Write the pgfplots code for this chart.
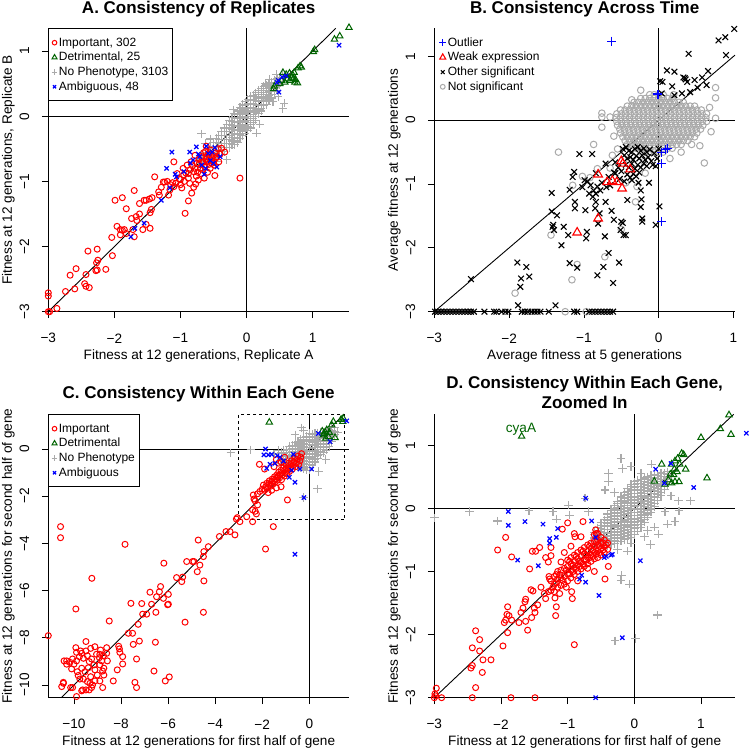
\documentclass[border=0pt]{standalone}
\usepackage{fontspec}
\setmainfont{Liberation Sans}
\usepackage{pgfplots}
\pgfplotsset{compat=1.18}
\definecolor{rred}{RGB}{255,0,0}
\definecolor{rgreen}{RGB}{0,100,0}
\definecolor{rblue}{RGB}{0,0,255}
\definecolor{rgray}{RGB}{170,170,170}
\newcommand{\rlabfont}{\fontsize{13.6}{16}\selectfont}
\pgfplotsset{
  rpanel/.style={
    scale only axis, width=300.7pt, height=283.4pt,
    axis x line*=bottom, axis y line*=left,
    axis line style={-, line width=0.75pt},
    enlargelimits=false, clip=false,
    tick align=outside, major tick length=6.5pt,
    tick style={black, line width=0.75pt},
    tick label style={font=\rlabfont, inner sep=0pt},
    xticklabel style={anchor=center, yshift=-20.1pt},
    yticklabel style={anchor=center, xshift=-17.3pt, rotate=90},
    every axis x label/.style={at={(axis description cs:0.5,0)}, yshift=-48.3pt, anchor=base, inner sep=0pt, font=\rlabfont},
    every axis y label/.style={at={(axis description cs:0,0.5)}, xshift=-36.5pt, rotate=90, anchor=base, inner sep=0pt, font=\rlabfont},
    every axis title/.style={at={(axis description cs:0.5,1)}, yshift=14.5pt, anchor=base, inner sep=0pt, font=\bfseries\fontsize{17}{20}\selectfont, align=center},
    legend image code/.code={\draw[mark repeat=2,mark phase=2,#1] plot coordinates {(0pt,0pt)(6pt,0pt)(12pt,0pt)};},
    legend cell align=left,
    legend style={at={(axis description cs:0,1)}, anchor=north west, draw=black, line width=0.9pt,
      inner xsep=3pt, inner ysep=6.6pt, row sep=0pt,
      nodes={inner sep=1.5pt, text height=9.2pt, text depth=2.5pt},
      /tikz/every even column/.append style={column sep=3.2pt}},
  },
  pimp/.style={only marks, mark=o, mark size=3pt, color=rred, mark options={line width=1pt, solid}},
  pdet/.style={only marks, mark=triangle, mark size=3.7pt, color=rgreen, mark options={line width=1pt, solid}},
  pnop/.style={only marks, mark=+, mark size=4.2pt, color=rgray, mark options={line width=1.1pt, solid}},
  pamb/.style={only marks, mark=x, mark size=3pt, color=rblue, mark options={line width=1.2pt, solid}},
  bout/.style={only marks, mark=+, mark size=4.5pt, color=rblue, mark options={line width=1.1pt, solid}},
  bweak/.style={only marks, mark=triangle, mark size=5pt, color=rred, mark options={line width=1.1pt, solid}},
  bsig/.style={only marks, mark=x, mark size=4pt, color=black, mark options={line width=1.1pt, solid}},
  bnot/.style={only marks, mark=o, mark size=3.3pt, color=rgray, mark options={line width=1pt, solid}},
  refline/.style={black, line width=0.9pt, forget plot, no marks},
}
\begin{document}
\begin{tikzpicture}
\useasboundingbox (0,0) rectangle (750pt,749pt);
% ---------------- Panel A ----------------
\begin{axis}[rpanel, at={(48.3pt,437.3pt)}, anchor=south west,
  xmin=-3, xmax=1.55, ymin=-3, ymax=1.35,
  xtick={-3,-2,-1,0,1}, xticklabels={−3,−2,−1,0,1},
  ytick={-3,-2,-1,0,1}, yticklabels={−3,−2,−1,0,1},
  title={A. Consistency of Replicates},
  xlabel={Fitness at 12 generations, Replicate A},
  ylabel={Fitness at 12 generations, Replicate B},
  legend style={font=\fontsize{12}{14}\selectfont}]
\addlegendimage{pimp, mark size=2.3pt}\addlegendentry{\fontsize{12}{14}\selectfont Important, 302}
\addlegendimage{pdet, mark size=2.9pt}\addlegendentry{\fontsize{12}{14}\selectfont Detrimental, 25}
\addlegendimage{pnop, mark size=2.8pt}\addlegendentry{\fontsize{12}{14}\selectfont No Phenotype, 3103}
\addlegendimage{pamb, mark size=2.2pt}\addlegendentry{\fontsize{12}{14}\selectfont Ambiguous, 48}
\addplot[pnop, forget plot] coordinates {
(-0.70,-0.66)(-0.70,-0.72)
(-0.66,-0.60)(-0.66,-0.66)(-0.66,-0.72)
(-0.62,-0.56)(-0.62,-0.62)(-0.62,-0.68)
(-0.58,-0.50)(-0.58,-0.56)(-0.58,-0.62)(-0.58,-0.68)
(-0.54,-0.46)(-0.54,-0.52)(-0.54,-0.58)(-0.54,-0.64)
(-0.50,-0.40)(-0.50,-0.46)(-0.50,-0.52)(-0.50,-0.58)(-0.50,-0.64)
(-0.46,-0.34)(-0.46,-0.40)(-0.46,-0.46)(-0.46,-0.52)(-0.46,-0.58)(-0.46,-0.62)
(-0.42,-0.30)(-0.42,-0.36)(-0.42,-0.42)(-0.42,-0.48)(-0.42,-0.54)(-0.42,-0.60)
(-0.38,-0.24)(-0.38,-0.30)(-0.38,-0.36)(-0.38,-0.42)(-0.38,-0.48)(-0.38,-0.54)
(-0.34,-0.18)(-0.34,-0.24)(-0.34,-0.30)(-0.34,-0.36)(-0.34,-0.42)(-0.34,-0.48)(-0.34,-0.54)
(-0.30,-0.12)(-0.30,-0.18)(-0.30,-0.24)(-0.30,-0.30)(-0.30,-0.36)(-0.30,-0.42)(-0.30,-0.48)
(-0.26,-0.06)(-0.26,-0.12)(-0.26,-0.18)(-0.26,-0.24)(-0.26,-0.30)(-0.26,-0.36)(-0.26,-0.42)(-0.26,-0.48)
(-0.22,-0.02)(-0.22,-0.08)(-0.22,-0.14)(-0.22,-0.20)(-0.22,-0.26)(-0.22,-0.32)(-0.22,-0.38)(-0.22,-0.44)
(-0.18,0.04)(-0.18,-0.02)(-0.18,-0.08)(-0.18,-0.14)(-0.18,-0.20)(-0.18,-0.26)(-0.18,-0.32)(-0.18,-0.38)(-0.18,-0.44)
(-0.14,0.08)(-0.14,0.02)(-0.14,-0.04)(-0.14,-0.10)(-0.14,-0.16)(-0.14,-0.22)(-0.14,-0.28)(-0.14,-0.34)(-0.14,-0.40)
(-0.10,0.14)(-0.10,0.08)(-0.10,0.02)(-0.10,-0.04)(-0.10,-0.10)(-0.10,-0.16)(-0.10,-0.22)(-0.10,-0.28)(-0.10,-0.34)
(-0.06,0.18)(-0.06,0.12)(-0.06,0.06)(-0.06,0.00)(-0.06,-0.06)(-0.06,-0.12)(-0.06,-0.18)(-0.06,-0.24)(-0.06,-0.30)
(-0.02,0.22)(-0.02,0.16)(-0.02,0.10)(-0.02,0.04)(-0.02,-0.02)(-0.02,-0.08)(-0.02,-0.14)(-0.02,-0.20)(-0.02,-0.26)
(0.02,0.26)(0.02,0.20)(0.02,0.14)(0.02,0.08)(0.02,0.02)(0.02,-0.04)(0.02,-0.10)(0.02,-0.16)(0.02,-0.22)
(0.06,0.30)(0.06,0.24)(0.06,0.18)(0.06,0.12)(0.06,0.06)(0.06,0.00)(0.06,-0.06)(0.06,-0.12)(0.06,-0.18)
(0.10,0.32)(0.10,0.26)(0.10,0.20)(0.10,0.14)(0.10,0.08)(0.10,0.02)(0.10,-0.04)(0.10,-0.10)
(0.14,0.36)(0.14,0.30)(0.14,0.24)(0.14,0.18)(0.14,0.12)(0.14,0.06)(0.14,0.00)(0.14,-0.06)
(0.18,0.40)(0.18,0.34)(0.18,0.28)(0.18,0.22)(0.18,0.16)(0.18,0.10)(0.18,0.04)
(0.22,0.42)(0.22,0.36)(0.22,0.30)(0.22,0.24)(0.22,0.18)(0.22,0.12)(0.22,0.08)
(0.26,0.46)(0.26,0.40)(0.26,0.34)(0.26,0.28)(0.26,0.22)(0.26,0.16)
(0.30,0.48)(0.30,0.42)(0.30,0.36)(0.30,0.30)(0.30,0.24)(0.30,0.18)
(0.34,0.50)(0.34,0.44)(0.34,0.38)(0.34,0.32)(0.34,0.26)
(0.38,0.52)(0.38,0.46)(0.38,0.40)(0.38,0.34)(0.38,0.28)
(0.42,0.56)(0.42,0.50)(0.42,0.44)(0.42,0.38)
(0.46,0.58)(0.46,0.52)(0.46,0.46)(0.46,0.40)
(0.50,0.60)(0.50,0.54)(0.50,0.48)
(0.54,0.64)(0.54,0.58)
(0.15,-0.26)(0.55,0.12)(0.57,0.20)(0.28,0.50)(-0.30,-0.67)(-0.68,-0.27)(-0.45,-0.70)(0.45,0.64)(0.35,0.57)(-0.55,-0.35)
(0.40,0.22)(0.48,0.30)(-0.62,-0.42)(0.20,-0.12)(-0.20,0.10)};
\addplot[pimp, forget plot] coordinates {
(-3,-3)(-2.98,-3.0)(-3,-2.71)(-3,-2.76)(-2.87,-2.95)(-2.74,-2.69)(-2.67,-2.44)(-2.60,-2.65)(-2.58,-2.34)(-2.43,-2.43)
(-2.45,-2.57)(-2.43,-2.61)(-2.38,-2.63)(-2.40,-2.07)(-2.26,-2.04)(-2.27,-2.25)(-2.25,-2.21)(-2.28,-2.37)(-2.26,-2.36)(-2.13,-2.35)
(-2.03,-2.14)(-2.04,-1.86)(-1.96,-1.69)(-1.91,-1.74)(-1.88,-1.75)(-1.85,-1.74)(-1.91,-1.82)(-1.82,-1.80)(-1.99,-1.29)(-1.88,-1.25)
(-1.82,-1.42)(-1.70,-1.14)(-1.74,-1.57)(-1.67,-1.54)(-1.72,-1.74)(-1.70,-1.85)(-1.66,-1.60)(-1.62,-1.50)(-1.62,-1.34)(-1.55,-1.29)
(-1.52,-1.29)(-1.47,-1.27)(-1.43,-1.25)(-1.57,-1.74)(-1.52,-1.66)(-1.46,-1.72)(-1.46,-1.48)(-1.44,-1.43)(-1.39,-0.93)(-1.33,-1.16)
(-1.32,-1.21)(-1.29,-1.09)(-1.26,-1.01)(-1.24,-1.01)(-1.18,-1.21)(-1.16,-1.13)(-1.10,-0.70)(-1.10,-1.08)(-1.07,-1.03)(-1.05,-0.88)
(-1.02,-0.96)(-1.00,-1.05)(-0.98,-1.10)(-0.96,-0.80)(-0.95,-0.90)(-0.93,-1.49)(-0.90,-0.75)(-0.88,-1.30)(-0.88,-0.95)(-0.86,-1.03)
(-0.84,-0.70)(-0.83,-1.18)(-0.80,-1.09)(-0.80,-0.85)(-0.78,-0.60)(-0.77,-1.04)(-0.76,-0.92)(-0.75,-0.72)(-0.73,-0.98)(-0.72,-0.66)
(-0.70,-0.80)(-0.69,-0.88)(-0.68,-0.62)(-0.66,-0.71)(-0.65,-0.56)(-0.64,-0.95)(-0.63,-0.78)(-0.62,-0.66)(-0.61,-0.46)(-0.60,-0.70)
(-0.59,-0.86)(-0.58,-0.58)(-0.57,-0.74)(-0.56,-0.64)(-0.55,-0.80)(-0.54,-0.52)(-0.53,-0.68)(-0.52,-0.72)(-0.50,-0.60)(-0.49,-0.75)
(-0.48,-0.91)(-0.47,-0.65)(-0.46,-0.56)(-0.45,-0.62)(-0.43,-0.50)(-0.42,-0.70)(-0.40,-0.58)(-0.38,-0.49)(-0.33,-0.55)(-0.10,-0.95)
(-1.00,-0.97)(-0.92,-0.87)(-0.85,-0.82)(-0.82,-0.76)(-0.78,-0.80)(-0.72,-0.74)(-0.68,-0.70)(-0.66,-0.82)(-0.60,-0.62)(-0.58,-0.68)
(-0.52,-0.64)(-0.50,-0.70)(-1.12,-1.02)(-1.15,-1.05)(-1.20,-1.00)(-0.94,-1.00)(-0.88,-0.88)(-0.74,-0.86)(-0.62,-0.54)(-0.56,-0.56)};
\addplot[pdet, forget plot] coordinates {
(1.55,1.36)(1.41,1.23)(1.33,1.18)(1.03,1.02)(1.01,0.99)(0.81,0.77)(0.83,0.75)(0.78,0.74)(0.55,0.67)(0.60,0.64)
(0.65,0.66)(0.70,0.63)(0.71,0.58)(0.73,0.52)(0.77,0.51)(0.66,0.55)(0.58,0.52)(0.53,0.55)(0.42,0.46)(0.41,0.42)
(0.62,0.57)(0.74,0.56)(0.50,0.50)(0.68,0.60)(0.72,0.67)};
\addplot[pamb, forget plot] coordinates {
(-1.13,-0.55)(-1.21,-0.80)(-1.08,-0.89)(-1.06,-0.93)(-1.16,-1.10)(-1.29,-1.29)(-1.55,-1.64)(-1.69,-1.72)(-1.75,-1.85)(-0.86,-0.55)
(-0.76,-0.47)(-0.61,-0.46)(-0.58,-0.57)(-0.81,-0.67)(-0.71,-0.62)(-0.45,-0.78)(-0.40,-0.62)(-0.64,-0.89)(-0.50,-0.72)(-0.68,-0.75)
(-0.73,-0.58)(-0.55,-0.68)(-0.85,-0.72)(-0.62,-0.80)(-0.95,-0.85)(0.48,0.55)(0.54,0.60)(0.46,0.52)(0.60,0.62)(1.40,1.09)
(0.49,0.37)(-0.48,-0.48)(-0.52,-0.55)};
\addplot[refline] coordinates {(-3,0)(1.55,0)};
\addplot[refline] coordinates {(0,-3)(0,1.35)};
\addplot[refline] coordinates {(-3,-3)(1.35,1.35)};
\end{axis}
% ---------------- Panel B ----------------
\begin{axis}[rpanel, at={(434.3pt,437.3pt)}, anchor=south west,
  xmin=-3, xmax=1.02, ymin=-3, ymax=1.44,
  xtick={-3,-2,-1,0,1}, xticklabels={−3,−2,−1,0,1},
  ytick={-3,-2,-1,0,1}, yticklabels={−3,−2,−1,0,1},
  title={B. Consistency Across Time},
  xlabel={Average fitness at 5 generations},
  ylabel={Average fitness at 12 generations},
  legend style={draw=none, inner xsep=4.5pt, font=\fontsize{12}{14}\selectfont, /tikz/every even column/.append style={column sep=5pt}}]
\addlegendimage{bout, mark size=3.5pt}\addlegendentry{\fontsize{12}{14}\selectfont Outlier}
\addlegendimage{bweak, mark size=3.5pt}\addlegendentry{\fontsize{12}{14}\selectfont Weak expression}
\addlegendimage{bsig, mark size=2.6pt}\addlegendentry{\fontsize{12}{14}\selectfont Other significant}
\addlegendimage{bnot, mark size=2.4pt}\addlegendentry{\fontsize{12}{14}\selectfont Not significant}
\addplot[bnot, forget plot] coordinates {
(-0.12,0.40)(-0.06,0.40)(0.00,0.40)(0.06,0.40)
(-0.24,0.34)(-0.18,0.34)(-0.12,0.34)(-0.06,0.34)(0.00,0.34)(0.06,0.34)(0.12,0.34)(0.18,0.34)
(-0.33,0.28)(-0.27,0.28)(-0.21,0.28)(-0.15,0.28)(-0.09,0.28)(-0.03,0.28)(0.03,0.28)(0.09,0.28)(0.15,0.28)(0.21,0.28)(0.27,0.28)(0.33,0.28)
(-0.42,0.22)(-0.36,0.22)(-0.30,0.22)(-0.24,0.22)(-0.18,0.22)(-0.12,0.22)(-0.06,0.22)(0.00,0.22)(0.06,0.22)(0.12,0.22)(0.18,0.22)(0.24,0.22)(0.30,0.22)(0.36,0.22)(0.42,0.22)(0.48,0.22)
(-0.51,0.16)(-0.45,0.16)(-0.39,0.16)(-0.33,0.16)(-0.27,0.16)(-0.21,0.16)(-0.15,0.16)(-0.09,0.16)(-0.03,0.16)(0.03,0.16)(0.09,0.16)(0.15,0.16)(0.21,0.16)(0.27,0.16)(0.33,0.16)(0.39,0.16)(0.45,0.16)(0.51,0.16)(0.57,0.16)
(-0.56,0.10)(-0.50,0.10)(-0.44,0.10)(-0.38,0.10)(-0.32,0.10)(-0.26,0.10)(-0.20,0.10)(-0.14,0.10)(-0.08,0.10)(-0.02,0.10)(0.04,0.10)(0.10,0.10)(0.16,0.10)(0.22,0.10)(0.28,0.10)(0.34,0.10)(0.40,0.10)(0.46,0.10)(0.52,0.10)(0.58,0.10)(0.64,0.10)
(-0.57,0.04)(-0.51,0.04)(-0.45,0.04)(-0.39,0.04)(-0.33,0.04)(-0.27,0.04)(-0.21,0.04)(-0.15,0.04)(-0.09,0.04)(-0.03,0.04)(0.03,0.04)(0.09,0.04)(0.15,0.04)(0.21,0.04)(0.27,0.04)(0.33,0.04)(0.39,0.04)(0.45,0.04)(0.51,0.04)(0.57,0.04)(0.63,0.04)
(-0.56,-0.02)(-0.50,-0.02)(-0.44,-0.02)(-0.38,-0.02)(-0.32,-0.02)(-0.26,-0.02)(-0.20,-0.02)(-0.14,-0.02)(-0.08,-0.02)(-0.02,-0.02)(0.04,-0.02)(0.10,-0.02)(0.16,-0.02)(0.22,-0.02)(0.28,-0.02)(0.34,-0.02)(0.40,-0.02)(0.46,-0.02)(0.52,-0.02)(0.58,-0.02)(0.64,-0.02)
(-0.55,-0.08)(-0.49,-0.08)(-0.43,-0.08)(-0.37,-0.08)(-0.31,-0.08)(-0.25,-0.08)(-0.19,-0.08)(-0.13,-0.08)(-0.07,-0.08)(-0.01,-0.08)(0.05,-0.08)(0.11,-0.08)(0.17,-0.08)(0.23,-0.08)(0.29,-0.08)(0.35,-0.08)(0.41,-0.08)(0.47,-0.08)(0.53,-0.08)(0.59,-0.08)
(-0.52,-0.14)(-0.46,-0.14)(-0.40,-0.14)(-0.34,-0.14)(-0.28,-0.14)(-0.22,-0.14)(-0.16,-0.14)(-0.10,-0.14)(-0.04,-0.14)(0.02,-0.14)(0.08,-0.14)(0.14,-0.14)(0.20,-0.14)(0.26,-0.14)(0.32,-0.14)(0.38,-0.14)(0.44,-0.14)(0.50,-0.14)(0.56,-0.14)
(-0.51,-0.20)(-0.45,-0.20)(-0.39,-0.20)(-0.33,-0.20)(-0.27,-0.20)(-0.21,-0.20)(-0.15,-0.20)(-0.09,-0.20)(-0.03,-0.20)(0.03,-0.20)(0.09,-0.20)(0.15,-0.20)(0.21,-0.20)(0.27,-0.20)(0.33,-0.20)(0.39,-0.20)(0.45,-0.20)(0.51,-0.20)
(-0.48,-0.26)(-0.42,-0.26)(-0.36,-0.26)(-0.30,-0.26)(-0.24,-0.26)(-0.18,-0.26)(-0.12,-0.26)(-0.06,-0.26)(0.00,-0.26)(0.06,-0.26)(0.12,-0.26)(0.18,-0.26)(0.24,-0.26)(0.30,-0.26)(0.36,-0.26)(0.42,-0.26)(0.48,-0.26)
(-0.45,-0.32)(-0.39,-0.32)(-0.33,-0.32)(-0.27,-0.32)(-0.21,-0.32)(-0.15,-0.32)(-0.09,-0.32)(-0.03,-0.32)(0.03,-0.32)(0.09,-0.32)(0.15,-0.32)(0.21,-0.32)(0.27,-0.32)(0.33,-0.32)(0.39,-0.32)
(-0.42,-0.38)(-0.36,-0.38)(-0.30,-0.38)(-0.24,-0.38)(-0.18,-0.38)(-0.12,-0.38)(-0.06,-0.38)(0.00,-0.38)(0.06,-0.38)(0.12,-0.38)(0.18,-0.38)(0.24,-0.38)(0.30,-0.38)
(-0.36,-0.44)(-0.30,-0.44)(-0.24,-0.44)(-0.18,-0.44)(-0.12,-0.44)(-0.06,-0.44)(0.00,-0.44)(0.06,-0.44)(0.12,-0.44)(0.18,-0.44)
(-0.30,-0.50)(-0.24,-0.50)(-0.18,-0.50)(-0.12,-0.50)(-0.06,-0.50)(0.00,-0.50)(0.06,-0.50)
(-0.24,0.47)(-0.36,0.32)(-0.76,0.11)(-0.76,0.05)(-0.76,-0.11)(-0.87,-0.38)(-1.34,-0.50)(0.76,0.51)(0.76,0.35)(0.76,0.03)
(0.61,-0.67)(0.44,-0.38)(-1.02,-0.88)(-0.82,-0.76)(-0.31,-1.28)(-0.50,-1.71)(-1.44,-1.80)(-1.09,-2.26)(-1.16,-2.50)(-1.92,-2.71)
(-0.72,-2.14)(-0.18,-0.83)(-1.25,-3.0)(-0.97,-3.0)(-0.29,-1.04)(-0.44,-0.98)(-0.65,0.05)(0.70,-0.18)(0.68,0.20)(-0.60,-0.25)
(0.55,-0.40)(-0.62,-0.55)(-0.55,-0.45)(-0.40,-0.62)(0.30,-0.50)(0.15,-0.60)(-0.20,-0.65)(0.20,0.40)(-1.15,-1.02)
(-0.92,-0.90)(-0.65,-0.75)};
\addplot[bsig, forget plot] coordinates {
(1.01,1.43)(0.89,1.30)(0.80,1.25)(0.90,1.02)(0.40,1.04)(0.11,0.78)(0.21,0.76)(0.02,0.61)(0.05,0.60)(0.18,0.53)
(0.04,0.42)(0.33,0.67)(0.36,0.64)(0.35,0.66)(0.48,0.63)(0.66,0.77)(0.58,0.67)(0.52,0.51)(0.64,0.55)(0.21,0.39)
(0.31,0.42)(0.42,0.44)(0.38,0.60)
(-0.48,-0.45)(-0.44,-0.42)(-0.40,-0.48)(-0.36,-0.50)(-0.32,-0.45)(-0.28,-0.42)(-0.24,-0.48)(-0.20,-0.44)(-0.16,-0.50)(-0.12,-0.46)
(-0.46,-0.55)(-0.42,-0.60)(-0.38,-0.58)(-0.34,-0.62)(-0.30,-0.56)(-0.26,-0.60)(-0.22,-0.55)(-0.18,-0.62)(-0.14,-0.58)(-0.10,-0.64)
(-0.44,-0.70)(-0.40,-0.74)(-0.36,-0.68)(-0.32,-0.76)(-0.28,-0.70)(-0.24,-0.74)(-0.20,-0.68)(-0.16,-0.72)(-0.08,-0.70)(-0.04,-0.72)
(-0.42,-0.85)(-0.38,-0.90)(-0.34,-0.84)(-0.30,-0.88)(-0.26,-0.82)(-0.50,-0.80)(-0.54,-0.74)(-0.58,-0.66)(-0.60,-0.82)(-0.52,-0.92)
(-0.46,-0.96)(-0.36,-0.94)(-0.02,-0.60)(0.00,-0.45)(-0.06,-0.52)
(-1.06,-0.53)(-0.89,-0.53)(-0.71,-0.68)(-1.13,-0.81)(-1.15,-0.89)(-1.43,-1.14)(-1.19,-1.09)(-1.12,-1.28)(-1.12,-1.38)(-0.99,-0.94)
(-0.91,-1.02)(-0.87,-1.10)(-0.84,-1.15)(-0.98,-1.41)(-0.84,-1.28)(-0.85,-1.38)(-0.79,-1.46)(-0.71,-1.28)(-0.63,-1.42)(-1.43,-1.43)
(-1.36,-1.49)(-1.42,-1.67)(-1.40,-1.72)(-1.41,-1.64)(-1.27,-1.67)(-1.21,-1.80)(-1.30,-1.96)(-0.96,-1.75)(-0.97,-1.85)(-0.81,-1.62)
(-0.72,-1.82)(-0.60,-1.56)(-0.50,-1.59)(-0.48,-1.61)(-0.51,-1.72)(-0.47,-1.80)(-0.44,-1.80)(-0.42,-1.25)(-0.27,-0.98)(-0.24,-1.10)
(-0.13,-0.98)(-0.23,-1.24)(-0.24,-1.36)(-0.22,-1.54)(-0.22,-1.59)(-0.04,-1.64)(0.01,-1.35)(-1.19,-2.24)(-1.09,-2.31)(-0.67,-2.08)
(-0.74,-2.30)(-0.53,-2.23)(-0.82,-2.43)(-0.61,-2.55)(-1.89,-2.23)(-1.77,-2.30)(-1.84,-2.48)(-1.73,-2.45)(-1.85,-2.61)(-2.51,-2.49)
(-1.88,-2.90)(-1.38,-2.90)
(-0.93,-1.15)(-0.88,-1.20)(-0.82,-1.04)(-0.76,-0.98)(-0.67,-0.89)(-0.65,-1.02)(-0.58,-0.83)(-0.84,-0.83)(-1.02,-1.05)(-0.95,-0.96)
(-0.78,-1.10)(-0.70,-1.05)
(-2.99,-3)(-2.95,-3)(-2.91,-3)(-2.87,-3)(-2.83,-3)(-2.79,-3)(-2.75,-3)(-2.71,-3)(-2.67,-3)(-2.63,-3)
(-2.59,-3)(-2.55,-3)(-2.51,-3)(-2.47,-3)(-2.33,-3)(-2.20,-3)(-2.17,-3)(-2.10,-3)(-2.05,-3)(-2.01,-3)
(-1.83,-3)(-1.79,-3)(-1.75,-3)(-1.70,-3)(-1.66,-3)(-1.62,-3)(-1.58,-3)(-1.47,-3)(-1.13,-3)(-1.09,-3)
(-0.93,-3)(-0.89,-3)(-0.85,-3)(-0.81,-3)(-0.77,-3)(-0.73,-3)(-0.69,-3)(-0.65,-3)(-0.61,-3)};
\addplot[bweak, forget plot] coordinates {
(-0.50,-0.64)(-0.48,-0.68)(-0.81,-0.85)(-0.69,-0.97)(-0.56,-0.97)(-0.49,-1.07)(-0.81,-1.54)(-1.09,-1.76)(-0.38,-0.77)(-0.62,-0.95)};
\addplot[bout, forget plot] coordinates {
(-0.63,1.24)(-0.01,0.41)(0.04,-0.50)(0.09,-0.46)(0.12,-0.44)(0.04,-0.68)(0.04,-1.59)};
\addplot[refline] coordinates {(-3,0)(1.02,0)};
\addplot[refline] coordinates {(0,-3)(0,1.44)};
\addplot[refline] coordinates {(-3,-3)(1.02,1.02)};
\end{axis}
% ---------------- Panel C ----------------
\begin{axis}[rpanel, at={(48.3pt,51.3pt)}, anchor=south west,
  xmin=-11.09, xmax=1.686, ymin=-10.54, ymax=1.47,
  xtick={-10,-8,-6,-4,-2,0}, xticklabels={−10,−8,−6,−4,−2,0},
  ytick={-10,-8,-6,-4,-2,0}, yticklabels={−10,−8,−6,−4,−2,0},
  title={C. Consistency Within Each Gene},
  title style={yshift=0.8pt},
  xlabel={Fitness at 12 generations for first half of gene},
  ylabel={Fitness at 12 generations for second half of gene},
  legend style={font=\fontsize{12}{14}\selectfont}]
\addlegendimage{pimp, mark size=2.3pt}\addlegendentry{\fontsize{12}{14}\selectfont Important}
\addlegendimage{pdet, mark size=2.9pt}\addlegendentry{\fontsize{12}{14}\selectfont Detrimental}
\addlegendimage{pnop, mark size=2.8pt}\addlegendentry{\fontsize{12}{14}\selectfont No Phenotype}
\addlegendimage{pamb, mark size=2.2pt}\addlegendentry{\fontsize{12}{14}\selectfont Ambiguous}
\addplot[pnop, forget plot] coordinates {
(-1.20,-0.60)(-1.20,-0.45)(-1.20,-0.30)(-1.20,-0.15)
(-1.08,-0.55)(-1.08,-0.42)(-1.08,-0.30)(-1.08,-0.18)(-1.08,-0.05)
(-0.96,-0.65)(-0.96,-0.52)(-0.96,-0.40)(-0.96,-0.28)(-0.96,-0.16)(-0.96,-0.04)
(-0.84,-0.62)(-0.84,-0.50)(-0.84,-0.38)(-0.84,-0.26)(-0.84,-0.14)(-0.84,-0.02)(-0.84,0.10)
(-0.72,-0.70)(-0.72,-0.58)(-0.72,-0.46)(-0.72,-0.34)(-0.72,-0.22)(-0.72,-0.10)(-0.72,0.02)(-0.72,0.14)
(-0.60,-0.70)(-0.60,-0.58)(-0.60,-0.46)(-0.60,-0.34)(-0.60,-0.22)(-0.60,-0.10)(-0.60,0.02)(-0.60,0.14)(-0.60,0.26)
(-0.48,-0.75)(-0.48,-0.63)(-0.48,-0.51)(-0.48,-0.39)(-0.48,-0.27)(-0.48,-0.15)(-0.48,-0.03)(-0.48,0.09)(-0.48,0.21)(-0.48,0.33)
(-0.36,-0.80)(-0.36,-0.68)(-0.36,-0.56)(-0.36,-0.44)(-0.36,-0.32)(-0.36,-0.20)(-0.36,-0.08)(-0.36,0.04)(-0.36,0.16)(-0.36,0.28)(-0.36,0.40)
(-0.24,-0.85)(-0.24,-0.73)(-0.24,-0.61)(-0.24,-0.49)(-0.24,-0.37)(-0.24,-0.25)(-0.24,-0.13)(-0.24,-0.01)(-0.24,0.11)(-0.24,0.23)(-0.24,0.35)(-0.24,0.47)
(-0.12,-0.90)(-0.12,-0.78)(-0.12,-0.66)(-0.12,-0.54)(-0.12,-0.42)(-0.12,-0.30)(-0.12,-0.18)(-0.12,-0.06)(-0.12,0.06)(-0.12,0.18)(-0.12,0.30)(-0.12,0.42)(-0.12,0.54)
(0.00,-0.90)(0.00,-0.78)(0.00,-0.66)(0.00,-0.54)(0.00,-0.42)(0.00,-0.30)(0.00,-0.18)(0.00,-0.06)(0.00,0.06)(0.00,0.18)(0.00,0.30)(0.00,0.42)(0.00,0.54)(0.00,0.66)
(0.12,-0.70)(0.12,-0.58)(0.12,-0.46)(0.12,-0.34)(0.12,-0.22)(0.12,-0.10)(0.12,0.02)(0.12,0.14)(0.12,0.26)(0.12,0.38)(0.12,0.50)(0.12,0.62)
(0.24,-0.55)(0.24,-0.43)(0.24,-0.31)(0.24,-0.19)(0.24,-0.07)(0.24,0.05)(0.24,0.17)(0.24,0.29)(0.24,0.41)(0.24,0.53)(0.24,0.65)
(0.36,-0.40)(0.36,-0.28)(0.36,-0.16)(0.36,-0.04)(0.36,0.08)(0.36,0.20)(0.36,0.32)(0.36,0.44)(0.36,0.56)(0.36,0.68)
(0.48,-0.25)(0.48,-0.13)(0.48,-0.01)(0.48,0.11)(0.48,0.23)(0.48,0.35)(0.48,0.47)(0.48,0.59)(0.48,0.71)
(0.60,-0.15)(0.60,-0.03)(0.60,0.09)(0.60,0.21)(0.60,0.33)(0.60,0.45)(0.60,0.57)(0.60,0.69)
(0.72,-0.05)(0.72,0.07)(0.72,0.19)(0.72,0.31)(0.72,0.43)(0.72,0.55)(0.72,0.67)(0.72,0.79)
(0.84,0.10)(0.84,0.22)(0.84,0.34)(0.84,0.46)(0.84,0.58)(0.84,0.70)(0.84,0.82)
(0.96,0.30)(0.96,0.42)(0.96,0.54)(0.96,0.66)(0.96,0.78)(0.96,0.90)
(1.08,0.60)(1.08,0.75)(1.08,0.90)
(-3.33,-0.16)(-2.49,-0.04)(0.34,-1.69)(-0.25,-2.06)(-0.33,0.90)(-0.25,0.80)(-0.60,0.60)(-1.50,-0.20)(-1.30,-0.05)(0.40,-0.95)
(0.70,-0.45)(1.20,0.70)};
\addplot[pimp, forget plot] coordinates {
(-2.38,-1.95)(-2.35,-2.12)(-2.30,-2.20)(-2.20,-2.37)(-2.41,-2.58)(-2.30,-2.64)(-2.25,-2.75)(-2.41,-3.08)(-2.66,-2.87)(-2.95,-3.08)
(-3.06,-2.91)(-3.10,-2.97)(-3.37,-3.50)(-3.16,-3.64)(-3.54,-3.50)(-3.82,-3.71)(-4.29,-4.14)(-4.48,-4.35)(-4.72,-3.86)(-4.50,-4.56)
(-4.65,-4.92)(-4.76,-5.20)(-4.96,-4.77)(-4.90,-4.77)(-5.21,-4.77)(-4.48,-5.59)(-4.50,-6.92)(-5.28,-7.34)(-5.38,-5.43)(-5.42,-5.62)
(-5.64,-5.45)(-6.18,-4.84)(-5.99,-6.16)(-5.99,-6.58)(-6.02,-6.60)(-6.20,-6.33)(-6.32,-5.83)(-6.37,-6.05)(-6.49,-6.26)(-6.52,-6.92)
(-6.70,-6.58)(-6.77,-6.07)(-6.91,-7.00)(-7.08,-7.00)(-7.12,-6.55)(-7.27,-7.43)(-7.58,-6.54)(-7.69,-7.81)(-7.51,-7.81)(-7.48,-8.28)
(-7.22,-8.14)(-7.34,-8.90)(-7.41,-9.89)(-7.34,-10.11)(-6.54,-8.19)(-6.60,-9.41)(-6.12,-9.83)(-5.95,-9.66)(-8.50,-7.29)(-7.83,-4.04)
(-7.93,-8.80)(-8.07,-8.47)(-8.05,-8.62)(-8.10,-8.36)(-7.93,-9.11)(-8.16,-9.36)(-8.33,-9.83)(-8.78,-10.11)(-9.24,-5.48)(-9.92,-6.78)
(-10.57,-3.29)(-10.57,-3.76)(-11.09,-7.91)
(-10.31,-8.98)(-10.17,-9.04)(-10.06,-8.90)(-10.00,-9.12)(-9.89,-8.98)(-9.77,-8.80)(-9.67,-8.66)(-9.60,-8.87)(-9.49,-8.56)(-9.43,-8.76)
(-9.35,-9.01)(-9.25,-8.90)(-9.15,-9.15)(-9.49,-8.16)(-9.11,-8.38)(-9.04,-8.70)(-8.92,-8.84)(-8.82,-8.98)(-8.75,-8.76)(-8.90,-9.15)
(-8.73,-9.29)(-8.61,-8.66)(-8.58,-8.98)(-8.78,-9.41)(-9.01,-9.58)(-9.11,-9.36)(-9.39,-9.27)(-9.53,-9.44)(-9.67,-9.29)(-9.86,-9.44)
(-9.82,-9.60)(-9.75,-9.75)(-9.60,-9.75)(-9.43,-9.86)(-9.32,-9.93)(-9.21,-10.00)(-9.11,-9.83)(-8.90,-9.83)(-8.73,-9.58)(-10.31,-9.12)
(-10.10,-9.32)(-10.42,-8.98)(-9.89,-8.62)(-9.25,-10.11)(-9.63,-10.21)(-9.67,-10.25)(-9.89,-10.49)(-10.06,-10.11)(-10.45,-9.93)(-10.52,-10.07)
(-10.45,-9.89)(-10.14,-10.11)(-9.92,-8.42)(-9.72,-8.56)(-9.29,-8.45)(-8.87,-8.52)(-8.90,-8.70)(-8.61,-8.42)(-9.29,-9.65)(-9.49,-10.21)
(-9.35,-10.21)
(-2.10,-1.80)(-2.00,-1.70)(-1.95,-1.53)(-1.90,-1.75)(-1.85,-1.60)(-1.80,-1.45)(-1.78,-1.65)(-1.72,-1.50)(-1.70,-1.35)(-1.65,-1.58)
(-1.62,-1.42)(-1.58,-1.28)(-1.55,-1.50)(-1.50,-1.35)(-1.48,-1.18)(-1.45,-1.40)(-1.42,-1.25)(-1.38,-1.10)(-1.35,-1.32)(-1.32,-1.15)
(-1.30,-0.98)(-1.26,-1.22)(-1.22,-1.05)(-1.20,-0.90)(-1.18,-1.30)(-1.15,-1.10)(-1.12,-0.95)(-1.10,-0.80)(-1.06,-1.15)(-1.02,-1.00)
(-1.00,-0.85)(-0.98,-0.70)(-0.95,-1.05)(-0.92,-0.90)(-0.90,-0.75)(-0.88,-0.60)(-0.84,-0.95)(-0.80,-0.80)(-0.78,-0.65)(-0.76,-0.50)
(-0.72,-0.85)(-0.68,-0.70)(-0.66,-0.55)(-0.62,-0.40)(-0.58,-0.75)(-0.55,-0.60)(-0.52,-0.45)(-0.48,-0.30)(-0.45,-0.65)(-0.40,-0.50)
(-0.36,-0.35)(-0.33,-0.20)(-1.40,-0.45)(-1.30,-0.60)(-1.20,-0.55)(-1.05,-0.35)(-1.50,-0.75)(-2.12,-0.65)(-1.90,-0.85)(-0.93,-2.16)
(-1.53,-3.29)(-1.86,-4.24)(-1.60,-1.75)(-1.40,-1.65)(-1.20,-1.60)(-2.20,-1.90)(-1.75,-1.85)};
\addplot[pdet, forget plot] coordinates {
(-1.70,1.13)(1.44,1.30)(1.42,1.16)(1.02,1.16)(1.09,0.48)(0.67,0.71)(0.59,0.59)(0.81,0.52)(0.74,0.81)(0.95,1.02)
(0.62,0.65)(0.70,0.45)(0.55,0.75)(1.35,1.25)(0.85,0.70)};
\addplot[pamb, forget plot] coordinates {
(-1.86,0.0)(-1.93,-0.25)(-1.74,-0.25)(-1.60,-0.23)(-1.36,-0.28)(-1.81,-0.82)(-0.68,-0.23)(-0.61,-1.41)(-0.40,-0.85)(0.10,-0.85)
(-0.23,-2.06)(-0.61,-4.46)(0.38,0.66)(0.88,0.31)(1.59,1.19)(-1.46,-0.61)(-1.10,-0.51)(-1.25,-0.35)(-0.85,-1.20)(-0.75,-0.90)
(-1.67,-0.65)};
\addplot[refline] coordinates {(-11.09,0)(1.686,0)};
\addplot[refline] coordinates {(0,-10.54)(0,1.47)};
\addplot[refline] coordinates {(-10.54,-10.54)(1.47,1.47)};
\addplot[black, line width=0.9pt, dashed, forget plot, no marks] coordinates {(-3,-3)(1.5,-3)(1.5,1.47)(-3,1.47)(-3,-3)};
\end{axis}
% ---------------- Panel D ----------------
\begin{axis}[rpanel, at={(434.3pt,51.3pt)}, anchor=south west,
  xmin=-3, xmax=1.51, ymin=-3, ymax=1.49,
  xtick={-3,-2,-1,0,1}, xticklabels={−3,−2,−1,0,1},
  ytick={-3,-2,-1,0,1}, yticklabels={−3,−2,−1,0,1},
  title={D. Consistency Within Each Gene,\\Zoomed In},
  title style={anchor=south, yshift=-9.2pt},
  xlabel={Fitness at 12 generations for first half of gene},
  ylabel={Fitness at 12 generations for second half of gene}]
\addplot[pnop, forget plot] coordinates {
(-0.60,-0.52)(-0.60,-0.47)(-0.60,-0.42)(-0.60,-0.38)
(-0.55,-0.55)(-0.55,-0.50)(-0.55,-0.45)(-0.55,-0.40)(-0.55,-0.35)(-0.55,-0.31)
(-0.50,-0.57)(-0.50,-0.52)(-0.50,-0.47)(-0.50,-0.42)(-0.50,-0.37)(-0.50,-0.32)(-0.50,-0.27)(-0.50,-0.23)
(-0.45,-0.58)(-0.45,-0.53)(-0.45,-0.48)(-0.45,-0.43)(-0.45,-0.38)(-0.45,-0.33)(-0.45,-0.28)(-0.45,-0.23)(-0.45,-0.18)
(-0.40,-0.59)(-0.40,-0.54)(-0.40,-0.49)(-0.40,-0.44)(-0.40,-0.39)(-0.40,-0.34)(-0.40,-0.29)(-0.40,-0.24)(-0.40,-0.19)(-0.40,-0.14)(-0.40,-0.09)
(-0.35,-0.58)(-0.35,-0.53)(-0.35,-0.48)(-0.35,-0.43)(-0.35,-0.38)(-0.35,-0.33)(-0.35,-0.28)(-0.35,-0.23)(-0.35,-0.18)(-0.35,-0.13)(-0.35,-0.08)(-0.35,-0.03)
(-0.30,-0.56)(-0.30,-0.51)(-0.30,-0.46)(-0.30,-0.41)(-0.30,-0.36)(-0.30,-0.31)(-0.30,-0.26)(-0.30,-0.21)(-0.30,-0.16)(-0.30,-0.11)(-0.30,-0.06)(-0.30,-0.01)(-0.30,0.04)
(-0.25,-0.53)(-0.25,-0.48)(-0.25,-0.43)(-0.25,-0.38)(-0.25,-0.33)(-0.25,-0.28)(-0.25,-0.23)(-0.25,-0.18)(-0.25,-0.13)(-0.25,-0.08)(-0.25,-0.03)(-0.25,0.02)(-0.25,0.07)(-0.25,0.11)
(-0.20,-0.52)(-0.20,-0.47)(-0.20,-0.42)(-0.20,-0.37)(-0.20,-0.32)(-0.20,-0.27)(-0.20,-0.22)(-0.20,-0.17)(-0.20,-0.12)(-0.20,-0.07)(-0.20,-0.02)(-0.20,0.03)(-0.20,0.08)(-0.20,0.13)(-0.20,0.18)
(-0.15,-0.50)(-0.15,-0.45)(-0.15,-0.40)(-0.15,-0.35)(-0.15,-0.30)(-0.15,-0.25)(-0.15,-0.20)(-0.15,-0.15)(-0.15,-0.10)(-0.15,-0.05)(-0.15,0.00)(-0.15,0.05)(-0.15,0.10)(-0.15,0.15)(-0.15,0.20)(-0.15,0.25)
(-0.10,-0.48)(-0.10,-0.43)(-0.10,-0.38)(-0.10,-0.33)(-0.10,-0.28)(-0.10,-0.23)(-0.10,-0.18)(-0.10,-0.13)(-0.10,-0.08)(-0.10,-0.03)(-0.10,0.02)(-0.10,0.07)(-0.10,0.12)(-0.10,0.17)(-0.10,0.22)(-0.10,0.27)(-0.10,0.32)
(-0.05,-0.46)(-0.05,-0.41)(-0.05,-0.36)(-0.05,-0.31)(-0.05,-0.26)(-0.05,-0.21)(-0.05,-0.16)(-0.05,-0.11)(-0.05,-0.06)(-0.05,-0.01)(-0.05,0.04)(-0.05,0.09)(-0.05,0.14)(-0.05,0.19)(-0.05,0.24)(-0.05,0.29)(-0.05,0.34)(-0.05,0.38)
(0.00,-0.42)(0.00,-0.37)(0.00,-0.32)(0.00,-0.27)(0.00,-0.22)(0.00,-0.17)(0.00,-0.12)(0.00,-0.07)(0.00,-0.02)(0.00,0.03)(0.00,0.08)(0.00,0.13)(0.00,0.18)(0.00,0.23)(0.00,0.28)(0.00,0.33)(0.00,0.38)(0.00,0.42)
(0.05,-0.36)(0.05,-0.31)(0.05,-0.26)(0.05,-0.21)(0.05,-0.16)(0.05,-0.11)(0.05,-0.06)(0.05,-0.01)(0.05,0.04)(0.05,0.09)(0.05,0.14)(0.05,0.19)(0.05,0.24)(0.05,0.29)(0.05,0.34)(0.05,0.39)(0.05,0.44)
(0.10,-0.30)(0.10,-0.25)(0.10,-0.20)(0.10,-0.15)(0.10,-0.10)(0.10,-0.05)(0.10,0.00)(0.10,0.05)(0.10,0.10)(0.10,0.15)(0.10,0.20)(0.10,0.25)(0.10,0.30)(0.10,0.35)(0.10,0.40)(0.10,0.45)
(0.15,-0.22)(0.15,-0.17)(0.15,-0.12)(0.15,-0.07)(0.15,-0.02)(0.15,0.03)(0.15,0.08)(0.15,0.13)(0.15,0.18)(0.15,0.23)(0.15,0.28)(0.15,0.33)(0.15,0.38)(0.15,0.43)(0.15,0.48)
(0.20,-0.14)(0.20,-0.09)(0.20,-0.04)(0.20,0.01)(0.20,0.06)(0.20,0.11)(0.20,0.16)(0.20,0.21)(0.20,0.26)(0.20,0.31)(0.20,0.36)(0.20,0.41)(0.20,0.46)(0.20,0.50)
(0.25,-0.06)(0.25,-0.01)(0.25,0.04)(0.25,0.09)(0.25,0.14)(0.25,0.19)(0.25,0.24)(0.25,0.29)(0.25,0.34)(0.25,0.39)(0.25,0.44)(0.25,0.49)(0.25,0.52)
(0.30,0.03)(0.30,0.08)(0.30,0.13)(0.30,0.18)(0.30,0.23)(0.30,0.28)(0.30,0.33)(0.30,0.38)(0.30,0.43)(0.30,0.48)(0.30,0.53)
(0.35,0.12)(0.35,0.17)(0.35,0.22)(0.35,0.27)(0.35,0.32)(0.35,0.37)(0.35,0.42)(0.35,0.47)(0.35,0.52)
(0.40,0.20)(0.40,0.25)(0.40,0.30)(0.40,0.35)(0.40,0.40)(0.40,0.45)(0.40,0.50)(0.40,0.56)
(0.45,0.30)(0.45,0.35)(0.45,0.40)(0.45,0.45)(0.45,0.50)(0.45,0.55)
(0.50,0.38)(0.50,0.43)(0.50,0.48)(0.50,0.53)(0.50,0.58)
(-3.0,-0.15)(-2.47,-0.05)(-2.05,-0.20)(-1.58,-0.04)(-1.22,-0.05)(-1.17,-0.17)(-0.99,0.05)(-0.97,-0.11)(-0.74,0.16)(-0.44,0.29)
(-0.39,0.55)(-0.20,0.79)(-0.18,0.63)(-0.05,0.66)(0.26,0.70)(-0.19,-1.06)(-0.20,-1.14)(-0.07,-1.20)(0.35,-1.69)(-0.29,-2.10)
(0.02,-2.06)(0.46,-0.05)(0.67,-0.04)(0.61,-0.21)(0.84,0.12)(0.66,0.12)(0.24,-0.57)(0.36,-0.41)(-0.10,-0.68)(-0.39,0.42)
(-0.69,-0.05)(0.30,-0.30)(0.15,-0.45)(-0.05,-0.55)(0.55,0.20)(0.10,0.55)(-0.30,0.25)(0.50,-0.25)(0.20,-0.35)(-0.25,-0.65)};
\addplot[pimp, forget plot] coordinates {
(-1.25,-1.30)(-1.25,-1.15)(-1.20,-1.32)(-1.20,-1.20)(-1.20,-1.08)(-1.15,-1.25)(-1.15,-1.12)(-1.15,-1.00)(-1.10,-1.22)(-1.10,-1.10)
(-1.10,-0.98)(-1.05,-1.20)(-1.05,-1.08)(-1.05,-0.95)(-1.00,-1.15)(-1.00,-1.04)(-1.00,-0.92)(-1.00,-0.82)(-0.95,-1.10)(-0.95,-0.98)
(-0.95,-0.88)(-0.95,-0.78)(-0.90,-1.05)(-0.90,-0.94)(-0.90,-0.84)(-0.90,-0.74)(-0.85,-1.00)(-0.85,-0.90)(-0.85,-0.80)(-0.85,-0.70)
(-0.80,-0.96)(-0.80,-0.86)(-0.80,-0.76)(-0.80,-0.66)(-0.75,-0.92)(-0.75,-0.82)(-0.75,-0.72)(-0.75,-0.62)(-0.70,-0.88)(-0.70,-0.78)
(-0.70,-0.68)(-0.70,-0.58)(-0.65,-0.84)(-0.65,-0.74)(-0.65,-0.64)(-0.65,-0.55)(-0.60,-0.80)(-0.60,-0.70)(-0.60,-0.60)(-0.60,-0.52)
(-0.60,-0.42)(-0.55,-0.78)(-0.55,-0.68)(-0.55,-0.58)(-0.55,-0.50)(-0.55,-0.40)(-0.50,-0.74)(-0.50,-0.64)(-0.50,-0.55)(-0.50,-0.46)
(-0.45,-0.70)(-0.45,-0.60)(-0.45,-0.50)(-0.40,-0.65)(-0.40,-0.55)
(-1.22,-1.25)(-1.17,-1.18)(-1.12,-1.05)(-1.07,-1.14)(-1.02,-0.98)(-0.97,-1.04)(-0.92,-0.90)(-0.87,-0.95)(-0.82,-0.84)(-0.77,-0.88)
(-0.72,-0.74)(-0.67,-0.78)(-0.62,-0.66)(-0.57,-0.72)(-0.52,-0.60)(-0.47,-0.66)(-0.42,-0.58)(-0.97,-0.84)(-0.87,-0.76)(-0.77,-0.68)
(-0.67,-0.60)(-0.57,-0.54)(-0.47,-0.55)(-0.92,-1.00)(-0.82,-0.92)(-0.72,-0.82)(-0.62,-0.76)(-0.52,-0.70)
(-3,-3)(-2.98,-2.97)(-2.97,-2.85)(-2.99,-2.94)(-2.89,-3)(-2.43,-3)(-1.85,-3)(-1.49,-3)(-2.38,-2.84)(-2.45,-2.53)
(-2.43,-2.49)(-2.28,-2.60)(-2.27,-2.40)(-2.15,-2.40)(-2.32,-2.26)(-2.43,-2.21)(-2.38,-1.94)(-2.32,-2.08)(-1.97,-2.18)(-1.90,-1.97)
(-1.95,-1.81)(-1.93,-1.77)(-1.90,-1.56)(-1.91,-1.68)(-1.88,-1.70)(-1.93,-0.46)(-2.05,-0.66)(-1.84,-0.77)(-1.84,-1.77)(-1.73,-1.81)
(-1.70,-1.65)(-1.67,-1.58)(-1.64,-1.48)(-1.63,-1.44)(-1.60,-1.93)(-1.63,-1.79)(-1.54,-1.73)(-1.50,-1.58)(-1.49,-1.65)(-1.55,-1.29)
(-1.52,-1.31)(-1.57,-0.96)(-1.45,-1.53)(-1.33,-1.43)(-1.29,-1.32)(-1.17,-1.56)(-1.18,-1.70)(-1.19,-1.42)(-1.27,-1.12)(-1.28,-1.08)
(-1.17,-1.05)(-1.29,-0.85)(-1.33,-0.78)(-1.53,-0.68)(-1.48,-0.68)(-1.42,-0.62)(-1.25,-0.75)(-1.25,-0.62)(-1.08,-0.33)(-1.00,-0.23)
(-0.90,-0.40)(-0.77,-0.21)(-0.89,-0.45)(-0.94,-1.32)(-0.93,-1.43)(-0.90,-2.16)(-0.44,-1.12)(-0.39,-0.92)(-0.58,-0.34)(-0.57,-0.40)
(-1.35,-1.35)(-1.40,-1.25)(-1.10,-0.85)(-1.05,-0.70)(-0.95,-0.60)(-0.80,-0.45)(-0.70,-0.95)(-0.60,-1.00)(-0.85,-1.15)(-1.12,-1.35)
(-1.02,-1.25)};
\addplot[pdet, forget plot] coordinates {
(-1.69,1.14)(1.42,1.48)(1.29,1.26)(1.45,1.17)(1.00,1.12)(0.71,0.87)(0.74,0.85)(0.65,0.79)(0.61,0.75)(0.41,0.70)
(0.56,0.70)(0.77,0.62)(1.09,0.48)(0.30,0.43)(0.54,0.54)(0.59,0.53)(0.64,0.58)(0.51,0.45)(0.56,0.40)(0.61,0.42)
(0.67,0.42)(0.46,0.38)(0.60,0.62)(0.68,0.70)};
\addplot[pamb, forget plot] coordinates {
(-1.89,-0.05)(-1.89,-0.27)(-1.64,-0.21)(-1.37,-0.25)(-1.15,-0.32)(-1.27,-0.48)(-1.27,-0.55)(-1.17,-0.46)(-1.75,-0.82)(-1.44,-0.91)
(-0.73,0.16)(-0.64,-0.20)(-0.58,-0.46)(-0.35,-0.74)(-0.33,-0.73)(-0.45,-0.78)(-0.42,-0.76)(-0.79,-1.06)(-0.82,-1.12)(-0.73,-1.17)
(-0.53,-1.38)(-0.18,-2.05)(0.09,-0.83)(-0.58,-3.0)(0.32,0.62)(0.55,0.71)(0.45,0.40)(0.89,0.33)(1.68,1.19)};
\addplot[refline] coordinates {(-3,0)(1.51,0)};
\addplot[refline] coordinates {(0,-3)(0,1.49)};
\addplot[refline] coordinates {(-3,-3)(1.49,1.49)};
\node[text=rgreen, font=\rlabfont, anchor=base, inner sep=0pt] at (axis cs:-1.70,1.20) {cyaA};
\end{axis}
\end{tikzpicture}
\end{document}
